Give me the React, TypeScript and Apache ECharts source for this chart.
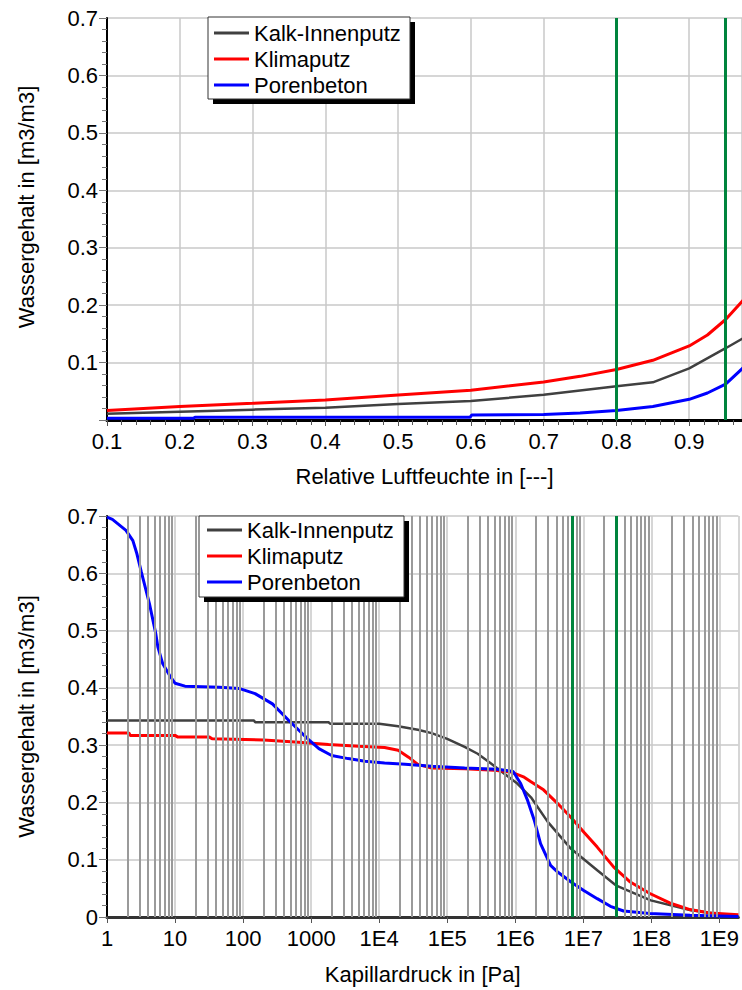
import React, { useEffect, useRef } from "react";
import * as echarts from "echarts";

// ---------- data ----------
const seriesNames = ["Kalk-Innenputz", "Klimaputz", "Porenbeton"];
const seriesColors = ["#404040", "#ff0000", "#0000ff"];

// Sorption isotherm: [relative humidity, water content m3/m3]
const isoKalk = [
  [0.1, 0.011], [0.2, 0.0145], [0.3, 0.018], [0.4, 0.0215], [0.5, 0.028], [0.6, 0.033],
  [0.7, 0.044], [0.8, 0.0586], [0.85, 0.0656], [0.9, 0.09], [0.95, 0.125], [0.975, 0.143],
];
const isoKlima = [
  [0.1, 0.0165], [0.2, 0.0235], [0.3, 0.029], [0.4, 0.035], [0.5, 0.0436], [0.6, 0.052],
  [0.7, 0.066], [0.75, 0.076], [0.8, 0.088], [0.85, 0.104], [0.9, 0.129], [0.925, 0.148],
  [0.95, 0.175], [0.975, 0.21],
];
const isoPoren = [
  [0.1, 0.003], [0.219, 0.003], [0.221, 0.005], [0.599, 0.005], [0.601, 0.0085], [0.7, 0.0095],
  [0.75, 0.012], [0.8, 0.0165], [0.85, 0.0235], [0.9, 0.036], [0.925, 0.047], [0.95, 0.0626],
  [0.975, 0.092],
];

// Moisture retention: [capillary pressure Pa, water content m3/m3]
const retKalk = [
  [1, 0.343], [145, 0.343], [150, 0.34], [1800, 0.34], [1900, 0.3375], [1e4, 0.3375],
  [1.9e4, 0.333], [3.7e4, 0.327], [5.9e4, 0.321], [1.0e5, 0.311], [1.8e5, 0.297], [2.8e5, 0.285],
  [4.4e5, 0.268], [6.9e5, 0.25], [1.07e6, 0.233], [1.7e6, 0.209], [3.0e6, 0.166], [6.6e6, 0.119],
  [1.6e7, 0.0815], [3.0e7, 0.0553], [9.8e7, 0.029], [3.8e8, 0.0117], [1.9e9, 0.001],
];
const retKlima = [
  [1, 0.321], [2.1, 0.321], [2.2, 0.317], [10, 0.317], [11, 0.314], [32, 0.314], [35, 0.311],
  [200, 0.309], [660, 0.305], [1800, 0.301], [5000, 0.298], [1.2e4, 0.296], [1.9e4, 0.291],
  [2.7e4, 0.279], [3.7e4, 0.2665], [5.9e4, 0.26], [1.8e5, 0.259], [4.9e5, 0.256], [8.7e5, 0.253],
  [1.35e6, 0.244], [1.7e6, 0.236], [2.6e6, 0.222], [4.2e6, 0.198], [6.5e6, 0.1745], [1.02e7, 0.148],
  [1.6e7, 0.122], [2.8e7, 0.087], [4.9e7, 0.061], [9.5e7, 0.041], [1.86e8, 0.0245], [3.7e8, 0.013],
  [7.2e8, 0.007], [1.9e9, 0.004],
];
const retPoren = [
  [1, 0.698], [1.2, 0.694], [1.9, 0.675], [2.4, 0.657], [2.75, 0.634], [3.2, 0.602], [4.2, 0.547],
  [5.2, 0.495], [5.6, 0.471], [6.6, 0.442], [8.3, 0.422], [10, 0.408], [14, 0.403], [45, 0.401],
  [87, 0.399], [150, 0.39], [270, 0.372], [470, 0.343], [660, 0.326], [910, 0.31], [1300, 0.294],
  [2000, 0.282], [3500, 0.2765], [6200, 0.272], [1.2e4, 0.269], [2.4e4, 0.2665], [5.9e4, 0.263],
  [1.8e5, 0.26], [5.5e5, 0.258], [9.3e5, 0.254], [1.2e6, 0.233], [1.5e6, 0.205], [1.9e6, 0.169],
  [2.35e6, 0.128], [3.3e6, 0.09], [4.2e6, 0.0785], [6.6e6, 0.061], [1.0e7, 0.0466], [1.6e7, 0.032],
  [2.5e7, 0.0187], [3.9e7, 0.0105], [9.5e7, 0.006], [3.7e8, 0.003], [1.9e9, 0.001],
];

// vertical green reference lines
const greenRH = [0.8, 0.95];
const greenPc = [3.02e7, 6.94e6];

// ---------- styling helpers ----------
const FONT = "'Liberation Sans', Arial, sans-serif";
const FS = 22;
const GREEN = "#00843d";

const pcMax = 1.9e9;
const pcMinorGrid: number[] = [];
for (let k = 0; k < 10; k++) {
  for (let m = 2; m <= 9; m++) {
    const v = m * Math.pow(10, k);
    if (v < pcMax) pcMinorGrid.push(v);
  }
}

const fmtY = (v: number) => (Math.abs(v) < 1e-9 ? "0" : v.toFixed(1));
const fmtPc = (v: number) => {
  const e = Math.round(Math.log10(v));
  return e < 4 ? String(Math.round(Math.pow(10, e))) : "1E" + e;
};

function lineSeries(name: string, data: number[][], idx: number, color: string) {
  return {
    type: "line",
    name,
    data,
    xAxisIndex: idx,
    yAxisIndex: idx,
    symbol: "none",
    showSymbol: false,
    z: 3,
    lineStyle: { color, width: color === "#404040" ? 2.5 : 3 },
    itemStyle: { color },
  };
}

function valueYAxis(gridIndex: number, showZero: boolean, namePad: number) {
  return {
    type: "value",
    gridIndex,
    min: 0,
    max: 0.7,
    interval: 0.1,
    name: "Wassergehalt in [m3/m3]",
    nameLocation: "middle",
    nameRotate: 90,
    nameGap: 70,
    nameTextStyle: { fontSize: FS, color: "#000", fontFamily: FONT, padding: [0, 0, 0, namePad] },
    axisLine: { show: true, onZero: false, lineStyle: { color: "#000", width: 2 } },
    axisTick: { show: true, length: 8, lineStyle: { color: "#777" } },
    minorTick: { show: true, splitNumber: 5, length: 5, lineStyle: { color: "#777" } },
    axisLabel: {
      fontSize: FS,
      color: "#000",
      fontFamily: FONT,
      margin: 9,
      showMinLabel: showZero,
      formatter: fmtY,
    },
    splitLine: { show: true, lineStyle: { color: "#c8c8c8", width: 1.5 } },
  };
}

function legendBox(x: number, y: number, w: number, h: number) {
  return [
    { type: "rect", z: 15, shape: { x: x + 5, y: y + 5, width: w, height: h }, style: { fill: "#000" } },
    {
      type: "rect",
      z: 16,
      shape: { x, y, width: w, height: h },
      style: { fill: "#fff", stroke: "#333", lineWidth: 1 },
    },
  ];
}

function legendOpt(left: number, top: number) {
  return {
    orient: "vertical",
    left,
    top,
    padding: 0,
    itemGap: 0,
    itemWidth: 35,
    itemHeight: 3,
    icon: "rect",
    z: 20,
    selectedMode: false,
    data: seriesNames,
    textStyle: { fontSize: FS, lineHeight: 26, color: "#000", fontFamily: FONT },
  };
}

const option = {
  animation: false,
  backgroundColor: "#fff",
  textStyle: { fontFamily: FONT },
  grid: [
    { left: 107, right: 0, top: 18, height: 402 },
    { left: 107, right: 0, top: 516, height: 401 },
  ],
  legend: [legendOpt(214, 20), legendOpt(207, 517)],
  graphic: [...legendBox(208, 17, 202, 82), ...legendBox(199, 516, 205, 81)],
  xAxis: [
    {
      type: "value",
      gridIndex: 0,
      min: 0.1,
      max: 0.9725,
      interval: 0.1,
      name: "Relative Luftfeuchte in [---]",
      nameLocation: "middle",
      nameGap: 45,
      nameTextStyle: { fontSize: FS, color: "#000", fontFamily: FONT },
      axisLine: { show: true, onZero: false, lineStyle: { color: "#000", width: 3 } },
      axisTick: { show: true, length: 6, lineStyle: { color: "#555" } },
      minorTick: { show: true, splitNumber: 5, length: 5, lineStyle: { color: "#555" } },
      axisLabel: {
        fontSize: FS,
        color: "#000",
        fontFamily: FONT,
        margin: 10,
        showMaxLabel: false,
        formatter: (v: number) => v.toFixed(1),
      },
      splitLine: { show: true, lineStyle: { color: "#c8c8c8", width: 1.5 } },
    },
    {
      type: "log",
      gridIndex: 1,
      logBase: 10,
      min: 1,
      max: pcMax,
      name: "Kapillardruck in [Pa]",
      nameLocation: "middle",
      nameGap: 46,
      nameTextStyle: { fontSize: FS, color: "#000", fontFamily: FONT },
      axisLine: { show: true, onZero: false, lineStyle: { color: "#333", width: 3 } },
      axisTick: { show: true, length: 6, lineStyle: { color: "#555" } },
      axisLabel: {
        fontSize: FS,
        color: "#000",
        fontFamily: FONT,
        margin: 10,
        showMaxLabel: false,
        formatter: fmtPc,
      },
      splitLine: { show: true, lineStyle: { color: "#c8c8c8", width: 1.5 } },
    },
  ],
  yAxis: [valueYAxis(0, false, 24), valueYAxis(1, true, 0)],
  series: [
    // minor log grid lines (bottom chart)
    {
      type: "line",
      xAxisIndex: 1,
      yAxisIndex: 1,
      data: [[1, -1]],
      symbol: "none",
      lineStyle: { opacity: 0 },
      z: 1,
      silent: true,
      markLine: {
        silent: true,
        symbol: ["none", "none"],
        label: { show: false },
        lineStyle: { color: "#9a9a9a", width: 2, type: "solid" },
        data: pcMinorGrid.map((v) => ({ xAxis: v })),
      },
    },
    lineSeries(seriesNames[0], isoKalk, 0, seriesColors[0]),
    lineSeries(seriesNames[1], isoKlima, 0, seriesColors[1]),
    lineSeries(seriesNames[2], isoPoren, 0, seriesColors[2]),
    lineSeries(seriesNames[0], retKalk, 1, seriesColors[0]),
    lineSeries(seriesNames[1], retKlima, 1, seriesColors[1]),
    lineSeries(seriesNames[2], retPoren, 1, seriesColors[2]),
    // green reference lines
    {
      type: "line",
      xAxisIndex: 0,
      yAxisIndex: 0,
      data: [[0.1, -1]],
      symbol: "none",
      lineStyle: { opacity: 0 },
      z: 5,
      silent: true,
      markLine: {
        silent: true,
        symbol: ["none", "none"],
        label: { show: false },
        lineStyle: { color: GREEN, width: 3, type: "solid" },
        data: greenRH.map((v) => ({ xAxis: v })),
      },
    },
    {
      type: "line",
      xAxisIndex: 1,
      yAxisIndex: 1,
      data: [[1, -1]],
      symbol: "none",
      lineStyle: { opacity: 0 },
      z: 5,
      silent: true,
      markLine: {
        silent: true,
        symbol: ["none", "none"],
        label: { show: false },
        lineStyle: { color: GREEN, width: 3, type: "solid" },
        data: greenPc.map((v) => ({ xAxis: v })),
      },
    },
  ],
};

export default function App() {
  const ref = useRef<HTMLDivElement>(null);
  useEffect(() => {
    const chart = echarts.init(ref.current as HTMLDivElement, null, { renderer: "svg" });
    chart.setOption(option as any);
    return () => chart.dispose();
  }, []);
  return (
    <div
      ref={ref}
      style={{ position: "absolute", left: 0, top: 0, width: 742, height: 990, background: "#fff" }}
    />
  );
}
